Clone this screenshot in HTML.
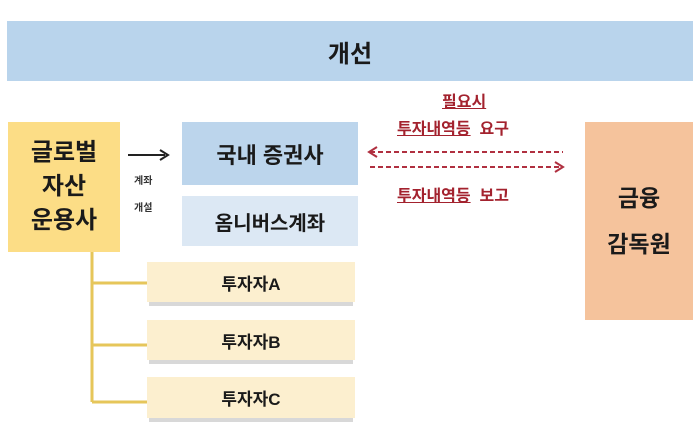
<!DOCTYPE html>
<html><head><meta charset="utf-8"><style>
body{margin:0;width:700px;height:440px;background:#fff;overflow:hidden;position:relative;font-family:"Liberation Sans","Noto Sans CJK KR",sans-serif;font-weight:bold;color:#1a1a1a}
div.b{position:absolute;display:flex;align-items:center;justify-content:center;text-align:center}
.t{position:absolute;white-space:nowrap}
</style></head><body>
<div class="b" style="left:7px;top:21px;width:686px;height:60px;background:#b9d4ec;font-size:24px">개선</div>
<div class="b" style="left:8px;top:122px;width:112px;height:130px;background:#fcdd86;font-size:24px;line-height:34px">글로벌<br>자산<br>운용사</div>
<div class="b" style="left:182px;top:122px;width:176px;height:63px;background:#bcd5ec;font-size:22px">국내 증권사</div>
<div class="b" style="left:182px;top:196px;width:176px;height:50px;background:#dce8f4;font-size:20px">옴니버스계좌</div>
<div class="b" style="left:147px;top:262px;width:208px;height:40px;background:#fcefcf;font-size:17px;box-shadow:0 6px 0 -2px #d8d8d8">투자자A</div>
<div class="b" style="left:147px;top:320px;width:208px;height:40px;background:#fcefcf;font-size:17px;box-shadow:0 6px 0 -2px #d8d8d8">투자자B</div>
<div class="b" style="left:147px;top:377px;width:208px;height:41px;background:#fcefcf;font-size:17px;box-shadow:0 6px 0 -2px #d8d8d8">투자자C</div>
<div class="b" style="left:585px;top:122px;width:108px;height:198px;background:#f5c39c;font-size:23px;line-height:46px">금융<br>감독원</div>
<div class="t" style="left:134px;top:168px;font-size:10px;line-height:27px;color:#333">계좌<br>개설</div>
<svg width="700" height="440" style="position:absolute;left:0;top:0">
<g stroke="#e6c65a" stroke-width="3" fill="none"><path d="M92 252V402M92 283H147M92 345H147M92 402H147"/></g>
<path d="M128 155H165" stroke="#222" stroke-width="2"/><path d="M160 150L168 155L160 160" stroke="#222" stroke-width="2" fill="none"/>
<g stroke="#b03040" stroke-width="2" stroke-dasharray="5 3" fill="none"><path d="M370 152H563"/><path d="M370 167H560"/></g>
<g stroke="#b03040" stroke-width="2" fill="none"><path d="M377 147L369 152L377 157"/><path d="M555 162L563 167L555 172"/></g>
</svg>
<div class="t" style="left:442px;top:88px;font-size:16px;color:#a3222e;text-decoration:underline">필요시</div>
<div class="t" style="left:397px;top:115px;font-size:16px;color:#a3222e"><u>투자내역등</u>&nbsp;&nbsp;요구</div>
<div class="t" style="left:397px;top:182px;font-size:16px;color:#a3222e"><u>투자내역등</u>&nbsp;&nbsp;보고</div>
</body></html>
